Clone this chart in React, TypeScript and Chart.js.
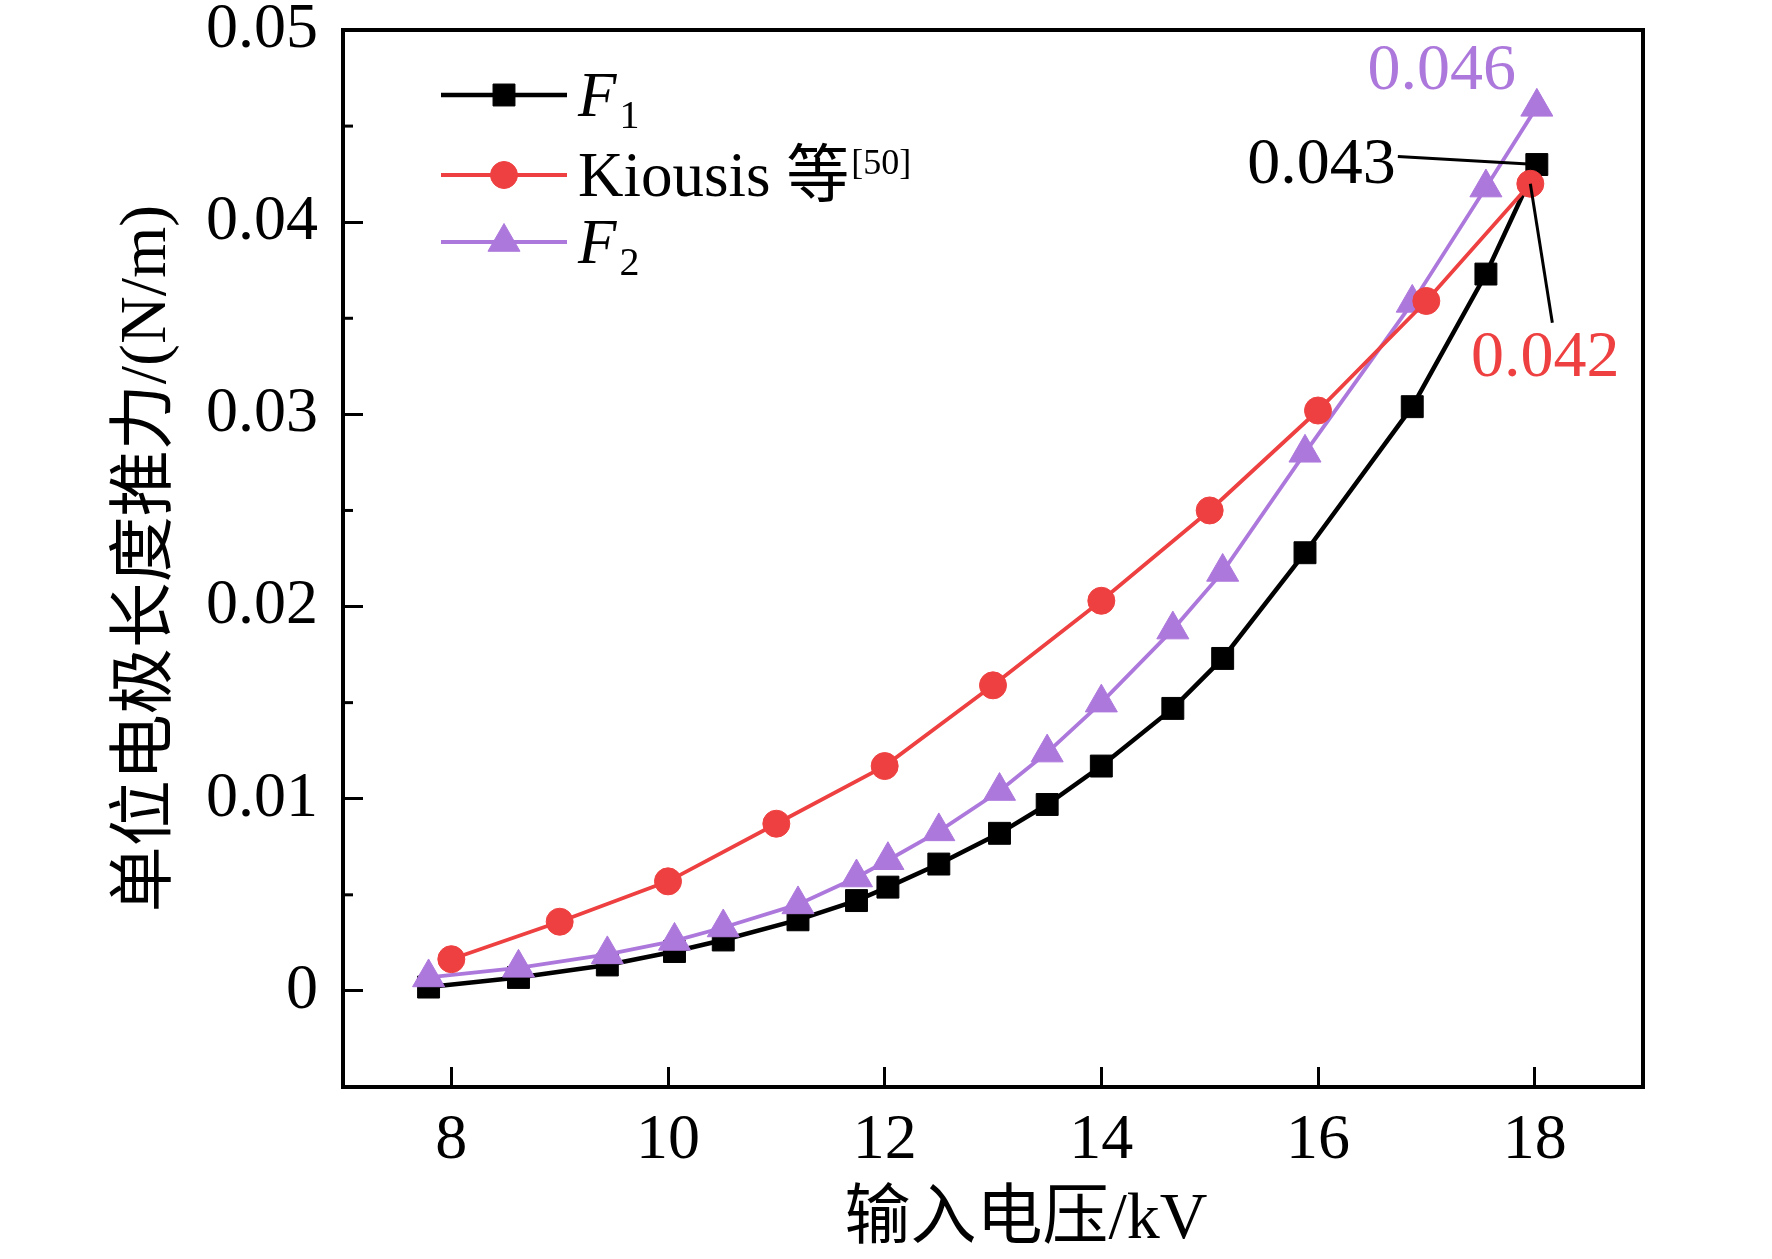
import { useEffect, useRef } from "react"
import { Chart, registerables } from "chart.js"
import { drawPoint } from "chart.js/helpers"
Chart.register(...registerables)

// input voltage (kV) shared by F1 and F2
const fVoltage = [7.79, 8.62, 9.44, 10.06, 10.51, 11.2, 11.74, 12.03, 12.5, 13.06, 13.5, 14.0, 14.66, 15.12, 15.88, 16.87, 17.55, 18.02]
const f1Thrust = [0.0002, 0.0007, 0.00135, 0.00205, 0.00265, 0.0037, 0.0047, 0.0054, 0.0066, 0.0082, 0.0097, 0.0117, 0.0147, 0.0173, 0.0228, 0.0304, 0.0373, 0.043]
const f2Thrust = [0.0007, 0.0012, 0.0019, 0.0026, 0.0033, 0.0045, 0.0059, 0.0068, 0.0083, 0.0104, 0.0124, 0.015, 0.0188, 0.0218, 0.028, 0.0358, 0.0418, 0.046]

// Kiousis et al. [50]
const kiousisVoltage = [8, 9, 10, 11, 12, 13, 14, 15, 16, 17, 17.96]
const kiousisThrust = [0.00165, 0.0036, 0.0057, 0.0087, 0.0117, 0.0159, 0.0203, 0.025, 0.0302, 0.0359, 0.042]

const xTickValues = [8, 10, 12, 14, 16, 18]
const yTickValues = [0, 0.01, 0.02, 0.03, 0.04, 0.05]
const yMinorTickValues = [0.005, 0.015, 0.025, 0.035, 0.045]

const legendLabels = [
  { text: "F", script: "1", sub: true, italic: true },
  { text: "Kiousis 等", script: "[50]", sub: false, italic: false },
  { text: "F", script: "2", sub: true, italic: true },
]

const SERIF = '"Liberation Serif", "Times New Roman", "Noto Sans CJK SC", serif'
const BLACK = "#000000"
const RED = "#EE4040"
const PURPLE = "#AD78DC"

const toXY = (xs: number[], ys: number[]) => xs.map((x, i) => ({ x, y: ys[i] }))

// keep tick labels from pushing the plot area around
const noScalePadding = (s: any) => {
  s.paddingTop = 0
  s.paddingBottom = 0
  s.paddingLeft = 0
  s.paddingRight = 0
}

const decorations = {
  id: "decorations",
  afterDatasetsDraw(chart: any) {
    const { ctx, chartArea: a, scales } = chart
    ctx.save()

    // frame
    ctx.strokeStyle = BLACK
    ctx.lineWidth = 4
    ctx.lineJoin = "miter"
    ctx.strokeRect(a.left, a.top, a.right - a.left, a.bottom - a.top)

    // minor y ticks
    ctx.lineWidth = 3
    yMinorTickValues.forEach((v) => {
      const y = scales.y.getPixelForValue(v)
      ctx.beginPath()
      ctx.moveTo(a.left, y)
      ctx.lineTo(a.left + 10, y)
      ctx.stroke()
    })

    // x axis title
    ctx.fillStyle = BLACK
    ctx.font = `66px ${SERIF}`
    ctx.textAlign = "center"
    ctx.textBaseline = "middle"
    ctx.fillText("输入电压/kV", (a.left + a.right) / 2 + 33, a.bottom + 134)

    // legend
    const rowY = [65, 145, 212]
    legendLabels.forEach((lab, i) => {
      const ds = chart.data.datasets[i]
      const y = a.top + rowY[i]
      ctx.strokeStyle = ds.borderColor
      ctx.lineWidth = ds.borderWidth
      ctx.beginPath()
      ctx.moveTo(a.left + 98, y)
      ctx.lineTo(a.left + 224, y)
      ctx.stroke()
      ctx.fillStyle = ds.pointBackgroundColor
      ctx.strokeStyle = ds.pointBorderColor
      ctx.lineWidth = 1
      drawPoint(ctx, { pointStyle: ds.pointStyle, rotation: 0, radius: ds.pointRadius, borderWidth: 1 }, a.left + 161, y)

      const tx = a.left + 235
      const base = y + 21
      ctx.fillStyle = BLACK
      ctx.textAlign = "left"
      ctx.textBaseline = "alphabetic"
      ctx.font = `${lab.italic ? "italic " : ""}63px ${SERIF}`
      ctx.fillText(lab.text, tx, base)
      const w = ctx.measureText(lab.text).width
      if (lab.sub) {
        ctx.font = `40px ${SERIF}`
        ctx.fillText(lab.script, tx + w + 3, base + 12)
      } else {
        ctx.font = `36px ${SERIF}`
        ctx.fillText(lab.script, tx + w + 2, base - 22)
      }
    })

    // end-point value labels
    const lastPoint = (i: number) => {
      const pts = chart.getDatasetMeta(i).data
      return pts[pts.length - 1]
    }
    const lastValue = (i: number) => {
      const d = chart.data.datasets[i].data
      return d[d.length - 1].y.toFixed(3)
    }
    ctx.font = `66px ${SERIF}`
    ctx.textBaseline = "alphabetic"
    ctx.strokeStyle = BLACK
    ctx.lineWidth = 3

    const p1 = lastPoint(0)
    ctx.beginPath()
    ctx.moveTo(p1.x - 139, p1.y - 8)
    ctx.lineTo(p1.x, p1.y)
    ctx.stroke()
    ctx.fillStyle = BLACK
    ctx.textAlign = "right"
    ctx.fillText(lastValue(0), p1.x - 141, p1.y + 18)

    const pk = lastPoint(1)
    ctx.beginPath()
    ctx.moveTo(pk.x, pk.y)
    ctx.lineTo(pk.x + 22, pk.y + 139)
    ctx.stroke()
    ctx.fillStyle = RED
    ctx.textAlign = "center"
    ctx.fillText(lastValue(1), pk.x + 15, pk.y + 192)

    const p2 = lastPoint(2)
    ctx.fillStyle = PURPLE
    ctx.textAlign = "center"
    ctx.fillText(lastValue(2), p2.x - 95, p2.y - 18)

    ctx.restore()
  },
}

export default function App() {
  const chartRef = useRef<HTMLCanvasElement>(null)
  const chartInstance = useRef<Chart | null>(null)

  useEffect(() => {
    if (!chartRef.current) return
    if (chartInstance.current) chartInstance.current.destroy()
    const ctx = chartRef.current.getContext("2d")
    if (!ctx) return

    const tickFont = { family: SERIF, size: 64, lineHeight: 0.9 }

    chartInstance.current = new Chart(ctx, {
      type: "line",
      data: {
        datasets: [
          {
            label: "F1",
            data: toXY(fVoltage, f1Thrust),
            borderColor: BLACK,
            backgroundColor: BLACK,
            pointBackgroundColor: BLACK,
            pointBorderColor: BLACK,
            borderWidth: 4.5,
            pointStyle: "rect",
            pointRadius: 15.5,
            pointBorderWidth: 1,
            tension: 0,
            order: 3,
          },
          {
            label: "Kiousis 等[50]",
            data: toXY(kiousisVoltage, kiousisThrust),
            borderColor: RED,
            backgroundColor: RED,
            pointBackgroundColor: RED,
            pointBorderColor: RED,
            borderWidth: 3.8,
            pointStyle: "circle",
            pointRadius: 13.5,
            pointBorderWidth: 1,
            tension: 0,
            order: 1,
          },
          {
            label: "F2",
            data: toXY(fVoltage, f2Thrust),
            borderColor: PURPLE,
            backgroundColor: PURPLE,
            pointBackgroundColor: PURPLE,
            pointBorderColor: PURPLE,
            borderWidth: 3.8,
            pointStyle: "triangle",
            pointRadius: 18.5,
            pointBorderWidth: 1,
            tension: 0,
            order: 2,
          },
        ],
      },
      options: {
        animation: false,
        responsive: true,
        maintainAspectRatio: false,
        layout: { padding: { top: 30, right: 129, left: 0, bottom: 0 } },
        scales: {
          x: {
            type: "linear",
            min: 7,
            max: 19,
            afterBuildTicks: (s: any) => {
              s.ticks = xTickValues.map((value) => ({ value }))
            },
            afterFit: (s: any) => {
              s.height = 172
              noScalePadding(s)
            },
            grid: { drawOnChartArea: false, drawTicks: true, tickLength: -20, tickWidth: 3, tickColor: BLACK },
            border: { display: false },
            ticks: {
              padding: 45,
              color: BLACK,
              font: tickFont,
              maxRotation: 0,
              autoSkip: false,
              callback: (v: any) => String(v),
            },
          },
          y: {
            type: "linear",
            min: -0.005,
            max: 0.05,
            afterBuildTicks: (s: any) => {
              s.ticks = yTickValues.map((value) => ({ value }))
            },
            afterFit: (s: any) => {
              s.width = 343
              noScalePadding(s)
            },
            grid: { drawOnChartArea: false, drawTicks: true, tickLength: -20, tickWidth: 3, tickColor: BLACK },
            border: { display: false },
            ticks: {
              padding: 45,
              color: BLACK,
              font: tickFont,
              autoSkip: false,
              callback: (v: any) => (Number(v) === 0 ? "0" : Number(v).toFixed(2)),
            },
            title: {
              display: true,
              text: "单位电极长度推力/(N/m)",
              color: BLACK,
              font: { family: SERIF, size: 66 },
              padding: { top: 108, bottom: 0 },
            },
          },
        },
        plugins: {
          legend: { display: false },
          tooltip: { enabled: false },
        },
      },
      plugins: [decorations],
    })

    return () => {
      if (chartInstance.current) {
        chartInstance.current.destroy()
        chartInstance.current = null
      }
    }
  }, [])

  return (
    <div style={{ position: "absolute", left: 0, top: 0, width: "1772px", height: "1259px", background: "#fff" }}>
      <canvas ref={chartRef}></canvas>
    </div>
  )
}
